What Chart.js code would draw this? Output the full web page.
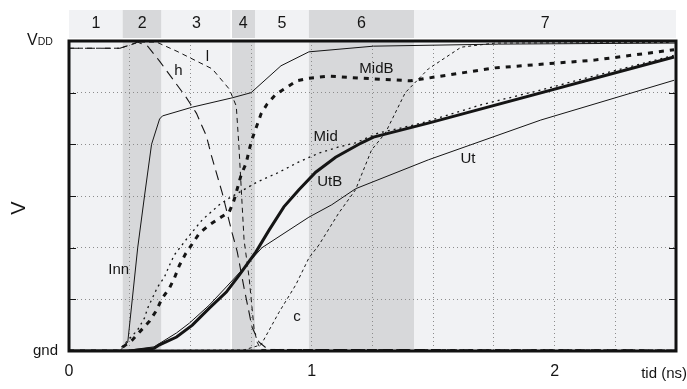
<!DOCTYPE html>
<html>
<head>
<meta charset="utf-8">
<script src="https://cdn.jsdelivr.net/npm/chart.js@4.4.1/dist/chart.umd.min.js"></script>
<style>
  html, body { margin: 0; padding: 0; background: #fff; }
  #wrap { width: 687px; height: 389px; position: relative; }
</style>
</head>
<body>
<div id="wrap"><canvas id="chart"></canvas></div>
<script>
// phases along the time axis (ns)
const regionEdges = [0, 0.221, 0.381, 0.668, 0.766, 0.988, 1.422, 2.5];
const regionNames = ['1', '2', '3', '4', '5', '6', '7'];
const regionShaded = [false, true, false, true, false, true, false];

// voltages in sixths of VDD (0 = gnd, 6 = VDD)
const innT = [0, 0.209, 0.242, 0.283, 0.311, 0.340, 0.373, 0.385, 0.508, 0.672, 0.75, 0.873, 0.988, 1.254, 1.77, 2.5];
const innV = [0, 0, 0.17, 2.0, 3.0, 4.0, 4.49, 4.55, 4.72, 4.9, 5.0, 5.52, 5.79, 5.9, 5.94, 5.96];

const hT = [0, 0.21, 0.283, 0.324, 0.373, 0.484, 0.525, 0.566, 0.586, 0.631, 0.672, 0.693, 0.721, 0.754, 0.783, 0.82, 2.5];
const hV = [5.86, 5.86, 5.98, 5.9, 5.61, 4.9, 4.6, 4.16, 3.79, 3.06, 2.28, 1.92, 1.22, 0.46, 0.17, 0.03, 0.02];

const lT = [0, 0.21, 0.29, 0.36, 0.445, 0.59, 0.66, 0.689, 0.70, 0.721, 0.742, 0.762, 0.775, 0.79, 2.5];
const lV = [5.86, 5.86, 5.98, 5.98, 5.8, 5.46, 5.07, 4.74, 3.95, 2.15, 1.41, 0.44, 0.17, 0.03, 0.02];

const midBT = [0, 0.2, 0.26, 0.291, 0.332, 0.361, 0.381, 0.414, 0.434, 0.455, 0.48, 0.537, 0.578, 0.619, 0.66, 0.68, 0.709, 0.73, 0.742, 0.754, 0.791, 0.816, 0.852, 0.893, 0.939, 0.988, 1.07, 1.205, 1.406, 1.754, 2.164, 2.492];
const midBV = [0, 0, 0.21, 0.37, 0.58, 0.79, 1.0, 1.22, 1.41, 1.66, 1.88, 2.28, 2.44, 2.57, 2.69, 2.92, 3.41, 3.64, 3.89, 4.1, 4.59, 4.78, 4.97, 5.09, 5.23, 5.28, 5.32, 5.28, 5.23, 5.48, 5.63, 5.83];

const midT = [0, 0.2, 0.222, 0.283, 0.311, 0.324, 0.344, 0.365, 0.393, 0.414, 0.434, 0.488, 0.549, 0.619, 0.66, 0.775, 0.865, 0.947, 1.029, 1.111, 1.18, 1.275, 1.398, 1.48, 1.7, 1.95, 2.2, 2.49];
const midV = [0, 0, 0.1, 0.41, 0.64, 0.83, 1.03, 1.24, 1.43, 1.66, 1.86, 2.19, 2.54, 2.83, 2.96, 3.27, 3.46, 3.66, 3.83, 3.95, 4.03, 4.22, 4.35, 4.45, 4.77, 5.06, 5.37, 5.72];

const utBT = [0, 0.25, 0.35, 0.373, 0.443, 0.508, 0.578, 0.648, 0.701, 0.77, 0.824, 0.885, 0.947, 1.016, 1.098, 1.205, 1.254, 1.48, 2.492];
const utBV = [0, 0, 0.05, 0.12, 0.27, 0.5, 0.83, 1.14, 1.47, 1.92, 2.34, 2.79, 3.12, 3.46, 3.75, 4.03, 4.14, 4.41, 5.69];

const utT = [0, 0.22, 0.35, 0.443, 0.496, 0.578, 0.648, 0.701, 0.795, 0.906, 0.988, 1.082, 1.18, 1.48, 1.943, 2.492];
const utV = [0, 0, 0.08, 0.35, 0.54, 0.89, 1.24, 1.51, 2.0, 2.34, 2.59, 2.83, 3.14, 3.7, 4.47, 5.24];

const cT = [0, 0.72, 0.791, 0.865, 0.934, 0.988, 1.029, 1.111, 1.18, 1.246, 1.303, 1.385, 1.48, 1.615, 1.754, 2.47];
const cV = [0, 0.02, 0.12, 0.75, 1.28, 1.8, 2.05, 2.67, 3.12, 3.89, 4.22, 5.0, 5.46, 5.88, 5.96, 5.97];

// curve names written inside the plot
const labelText = ['Inn', 'h', 'l', 'MidB', 'Mid', 'UtB', 'Ut', 'c'];
const labelT = [0.205, 0.451, 0.570, 1.266, 1.057, 1.074, 1.643, 0.939];
const labelV = [1.57, 5.42, 5.69, 5.46, 4.14, 3.27, 3.72, 0.66];

const FONT = "'Liberation Sans', Arial, sans-serif";
const INK = '#151515';
const LIGHT = '#f1f2f4';
const DARK = '#d7d8da';

Chart.defaults.font.family = FONT;
Chart.defaults.color = INK;

function pts(ts, vs) {
  return ts.map((t, i) => ({ x: t, y: vs[i] }));
}

function curve(ts, vs, width, dash) {
  return {
    data: pts(ts, vs),
    showLine: true,
    borderColor: INK,
    borderWidth: width,
    borderDash: dash,
    borderCapStyle: 'butt',
    pointRadius: 0,
    tension: 0
  };
}

const decor = {
  id: 'decor',
  beforeDraw(chart) {
    const { ctx, chartArea: a, scales: { x } } = chart;
    ctx.save();
    ctx.font = '16px ' + FONT;
    ctx.textAlign = 'center';
    ctx.textBaseline = 'middle';
    for (let i = 0; i < regionNames.length; i++) {
      const x0 = x.getPixelForValue(regionEdges[i]);
      const x1 = x.getPixelForValue(regionEdges[i + 1]);
      ctx.fillStyle = regionShaded[i] ? DARK : LIGHT;
      ctx.fillRect(x0, a.top, x1 - x0, a.bottom - a.top);
      ctx.fillRect(x0, 10, x1 - x0, 28);
      ctx.fillStyle = INK;
      ctx.fillText(regionNames[i], (x0 + x1) / 2, 24);
    }
    // thin white seam between phase 3 and 4
    const xs = x.getPixelForValue(regionEdges[3]);
    ctx.fillStyle = '#fff';
    ctx.fillRect(xs - 0.75, 10, 1.5, a.bottom - 10);
    ctx.restore();
  },
  afterDatasetsDraw(chart) {
    const { ctx, scales: { x, y } } = chart;
    ctx.save();
    ctx.font = '15px ' + FONT;
    ctx.fillStyle = INK;
    ctx.textAlign = 'center';
    ctx.textBaseline = 'middle';
    labelText.forEach((txt, i) => {
      ctx.fillText(txt, x.getPixelForValue(labelT[i]), y.getPixelForValue(labelV[i]));
    });
    ctx.restore();
  },
  afterDraw(chart) {
    const { ctx, chartArea: a, scales: { y } } = chart;
    ctx.save();
    // inward tick marks on both sides
    ctx.strokeStyle = INK;
    ctx.lineWidth = 1;
    for (let v = 1; v < 6; v++) {
      const py = Math.round(y.getPixelForValue(v)) + 0.5;
      ctx.beginPath();
      ctx.moveTo(a.left, py); ctx.lineTo(a.left + 7, py);
      ctx.moveTo(a.right - 7, py); ctx.lineTo(a.right, py);
      ctx.stroke();
    }
    // frame
    ctx.lineWidth = 3;
    ctx.strokeStyle = '#111';
    ctx.strokeRect(a.left, a.top, a.right - a.left, a.bottom - a.top);

    // VDD label with small-caps subscript
    ctx.fillStyle = INK;
    ctx.textBaseline = 'alphabetic';
    ctx.textAlign = 'left';
    ctx.font = '16px ' + FONT;
    const yv = y.getPixelForValue(6) + 4;
    ctx.fillText('V', 27, yv);
    const w = ctx.measureText('V').width;
    ctx.font = '10.5px ' + FONT;
    ctx.fillText('DD', 27 + w, yv);

    // axis titles
    ctx.font = '15px ' + FONT;
    ctx.textAlign = 'right';
    ctx.textBaseline = 'middle';
    ctx.fillText('tid (ns)', 687, 374);

    ctx.translate(19, 208);
    ctx.rotate(-Math.PI / 2);
    ctx.font = '20px ' + FONT;
    ctx.textAlign = 'center';
    ctx.fillText('V', 0, 0);
    ctx.restore();
  }
};

new Chart(document.getElementById('chart'), {
  type: 'scatter',
  data: {
    datasets: [
      curve(innT, innV, 1, []),
      curve(hT, hV, 1.1, [10, 6]),
      curve(lT, lV, 1, [5, 4]),
      curve(midBT, midBV, 3, [5, 6]),
      curve(midT, midV, 1.3, [2, 4]),
      curve(utBT, utBV, 3, []),
      curve(utT, utV, 1, []),
      curve(cT, cV, 1, [3, 3])
    ]
  },
  options: {
    responsive: true,
    maintainAspectRatio: false,
    animation: false,
    layout: { padding: { left: 0, right: 8, top: 41, bottom: 0 } },
    plugins: { legend: { display: false }, tooltip: { enabled: false } },
    scales: {
      x: {
        type: 'linear',
        min: 0,
        max: 2.5,
        afterFit: s => { s.height = 38; },
        ticks: {
          stepSize: 0.25,
          autoSkip: false,
          maxRotation: 0,
          padding: 11,
          font: { size: 16 },
          callback: v => (Number.isInteger(v) && v < 2.5 ? String(v) : '')
        },
        grid: { color: '#8c8c8c', lineWidth: 1, drawTicks: false },
        border: { display: false, dash: [1, 3] }
      },
      y: {
        min: 0,
        max: 6,
        afterFit: s => { s.width = 69; },
        ticks: {
          stepSize: 1,
          padding: 11,
          font: { size: 15 },
          callback: v => (v === 0 ? 'gnd' : '')
        },
        grid: { color: '#8c8c8c', lineWidth: 1, drawTicks: false },
        border: { display: false, dash: [1, 3] }
      }
    }
  },
  plugins: [decor]
});
</script>
</body>
</html>
